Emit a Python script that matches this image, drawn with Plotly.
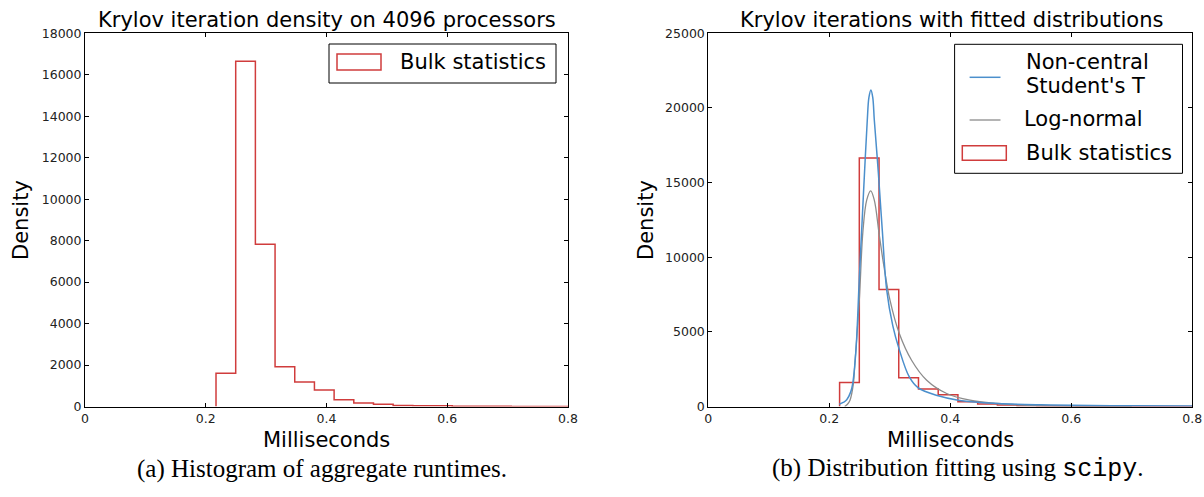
import plotly.graph_objects as go

W, H = 1204, 497

# ---------------- data ----------------
bin_edges = [0.2170, 0.2496, 0.2822, 0.3148, 0.3474, 0.3800, 0.4126, 0.4452, 0.4778,
             0.5104, 0.5430, 0.5756, 0.6082, 0.6408, 0.6734, 0.7060, 0.7386, 0.7712, 0.8038]
bin_density = [1600, 16650, 7830, 1920, 1180, 790, 320, 170, 105,
               45, 38, 38, 15, 10, 8, 5, 5, 3]

nct_x = [0.2165, 0.2230, 0.2288, 0.2354, 0.2387, 0.2441, 0.2496, 0.2535, 0.2580, 0.2628,
         0.2655, 0.2688, 0.2718, 0.2744, 0.2810, 0.2876, 0.2948, 0.3050, 0.3150, 0.3320,
         0.3470, 0.3800, 0.4130, 0.4500, 0.5000, 0.5500, 0.6000, 0.7000, 0.8000]
nct_y = [150, 270, 450, 980, 1540, 3800, 8600, 11800, 15500, 19190,
         20700, 21200, 20700, 19190, 15700, 11800, 7830, 5400, 3900, 2000,
         1250, 720, 420, 270, 160, 110, 80, 50, 35]

lgn_x = [0.2254, 0.2300, 0.2342, 0.2397, 0.2420, 0.2496, 0.2555, 0.2618, 0.2684, 0.2744,
         0.2822, 0.2904, 0.3003, 0.3157, 0.3360, 0.3610, 0.3940, 0.4326, 0.4767, 0.5200,
         0.5600, 0.6000, 0.6500, 0.7000]
lgn_y = [0, 150, 420, 1500, 2700, 7120, 11700, 13830, 14450, 13830,
         11600, 9360, 7120, 4890, 3100, 1760, 870, 420, 200, 90,
         40, 15, 5, 2]

x_ticks = [0, 0.2, 0.4, 0.6, 0.8]
x_ticktext = ["0", "0.2", "0.4", "0.6", "0.8"]
y1_ticks = [0, 2000, 4000, 6000, 8000, 10000, 12000, 14000, 16000, 18000]
y2_ticks = [0, 5000, 10000, 15000, 20000, 25000]

RED = "#d03c3c"
BLUE = "#4b8fcc"
GRAY = "#8c8c8c"
FONT = "DejaVu Sans"

def px(x):
    return x / W

def py(y):
    return 1 - y / H

# step outline of the histogram
step_x = [bin_edges[0]] + bin_edges[:-1] + [bin_edges[-1], bin_edges[-1]]
step_y = [0] + bin_density + [bin_density[-1], 0]

fig = go.Figure()
for xa, ya in (("x", "y"), ("x2", "y2")):
    fig.add_trace(go.Scatter(x=step_x, y=step_y, mode="lines", line_shape="hv",
                             line=dict(color=RED, width=1.5), xaxis=xa, yaxis=ya,
                             showlegend=False, hoverinfo="skip"))

fig.add_trace(go.Scatter(x=lgn_x, y=lgn_y, mode="lines", line_shape="spline",
                         line=dict(color=GRAY, width=1.3), xaxis="x2", yaxis="y2",
                         showlegend=False))
fig.add_trace(go.Scatter(x=nct_x, y=nct_y, mode="lines", line_shape="spline",
                         line=dict(color=BLUE, width=1.5), xaxis="x2", yaxis="y2",
                         showlegend=False))

axis_common = dict(showline=True, linecolor="black", linewidth=1, mirror="ticks",
                   ticks="inside", ticklen=4, tickcolor="black", showgrid=False,
                   zeroline=False, automargin=False,
                   tickfont=dict(family=FONT, size=12.5, color="#222"))

fig.update_layout(
    width=W, height=H, autosize=False,
    margin=dict(l=0, r=0, t=0, b=0, pad=0, autoexpand=False),
    paper_bgcolor="white", plot_bgcolor="white", showlegend=False,
    xaxis=dict(domain=[px(85), px(568)], range=[0, 0.8], tickvals=x_ticks,
               ticktext=x_ticktext, anchor="y", **axis_common),
    yaxis=dict(domain=[py(406.5), py(33.3)], range=[0, 18000], tickvals=y1_ticks,
               ticktext=[str(v) for v in y1_ticks], anchor="x", **axis_common),
    xaxis2=dict(domain=[px(708.3), px(1192.3)], range=[0, 0.8], tickvals=x_ticks,
                ticktext=x_ticktext, anchor="y2", **axis_common),
    yaxis2=dict(domain=[py(406.5), py(33.3)], range=[0, 25000], tickvals=y2_ticks,
                ticktext=[str(v) for v in y2_ticks], anchor="x2", **axis_common),
)

ann = []
def text(x, y, s, size=21, xanchor="center", angle=0, family=FONT, color="black"):
    ann.append(dict(x=px(x), y=py(y), xref="paper", yref="paper", text=s,
                    showarrow=False, xanchor=xanchor, yanchor="middle",
                    textangle=angle, font=dict(family=family, size=size, color=color)))

# titles
text(326.5, 20, "Krylov iteration density on 4096 processors")
text(951, 20, "Krylov iterations with fitted distributions")
# axis labels
text(326.5, 440, "Milliseconds")
text(950, 440, "Milliseconds")
text(21, 220, "Density", angle=-90)
text(646, 220, "Density", angle=-90)

shapes = []
def rect(x0, y0, x1, y1, color, width=1):
    shapes.append(dict(type="rect", xref="paper", yref="paper", x0=px(x0), x1=px(x1),
                       y0=py(y1), y1=py(y0), line=dict(color=color, width=width),
                       fillcolor="rgba(0,0,0,0)"))

def seg(x0, x1, y, color, width):
    shapes.append(dict(type="line", xref="paper", yref="paper", x0=px(x0), x1=px(x1),
                       y0=py(y), y1=py(y), line=dict(color=color, width=width)))

# left legend
rect(329, 44, 556, 83, "black", 1)
rect(337, 54, 381, 70, RED, 1.5)
text(398, 62, "Bulk statistics", xanchor="left")

# right legend
rect(954.6, 44.3, 1182.5, 173.3, "black", 1)
seg(969.6, 1000.5, 77.3, BLUE, 1.5)
text(1024, 61.7, "Non-central", xanchor="left")
text(1024, 86, "Student's T", xanchor="left")
seg(969.6, 1000.5, 120, GRAY, 1.3)
text(1022, 119.3, "Log-normal", xanchor="left")
rect(962.3, 145.7, 1006.3, 160.3, RED, 1.5)
text(1024, 152.7, "Bulk statistics", xanchor="left")

# captions
text(322, 469, "(a) Histogram of aggregate runtimes.", size=25, family="Liberation Serif")
text(958, 469, "(b) Distribution fitting using <span style='font-family:Liberation Mono'>scipy</span>.",
     size=25, family="Liberation Serif")

fig.update_layout(annotations=ann, shapes=shapes)
fig.write_html("out.html",
               post_script="document.body.style.margin='0';document.body.style.overflow='hidden';")
